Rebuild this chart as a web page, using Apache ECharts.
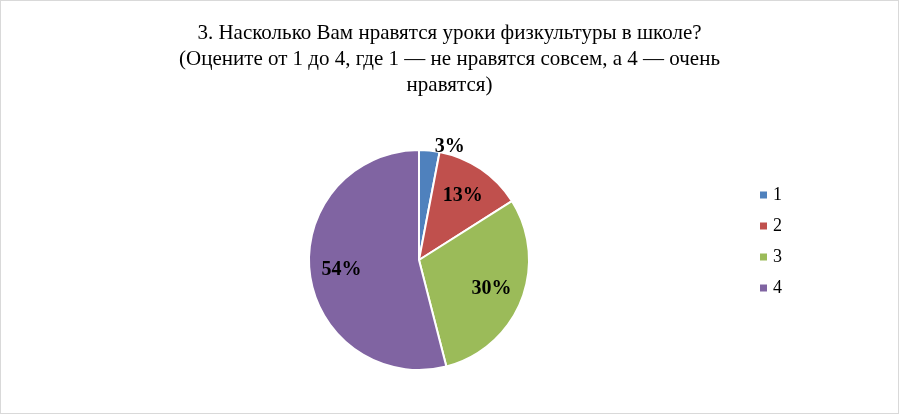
<!DOCTYPE html>
<html><head><meta charset="utf-8">
<script src="https://cdn.jsdelivr.net/npm/echarts@6/dist/echarts.min.js"></script>
<style>html,body{margin:0;padding:0;background:#fff}#c{width:899px;height:414px;box-sizing:border-box;border:1px solid #d9d9d9}</style>
</head><body><div id="c"></div>
<script>
const categories = ['1','2','3','4'];
const values = [3,13,30,54];
const labels = ['3%','13%','30%','54%'];
const colors = ['#4F81BD','#C0504D','#9BBB59','#8064A2'];
const titleText = '3. Насколько Вам нравятся уроки физкультуры в школе?\n(Оцените от 1 до 4, где 1 — не нравятся совсем, а 4 — очень\nнравятся)';
const font = 'Liberation Serif, Times New Roman, serif';
const chart = echarts.init(document.getElementById('c'));
const data = categories.map((c,i)=>({name:c,value:values[i],itemStyle:{color:colors[i]}}));
const labelData = categories.map((c,i)=>({name:c,value:values[i],
  label:{show:i>0,formatter:labels[i]}}));
chart.setOption({
  title:{text:titleText,left:'center',top:14,textStyle:{fontFamily:font,fontSize:21,fontWeight:'normal',color:'#000',lineHeight:26}},
  legend:{orient:'vertical',left:752,top:180,itemGap:13,itemWidth:9,itemHeight:9,icon:'rect',
    textStyle:{fontFamily:font,fontSize:18,color:'#000'},data:categories},
  series:[
   {type:'pie',center:[418,259],radius:[0,110],startAngle:90,clockwise:true,
    itemStyle:{borderColor:'#fff',borderWidth:2},
    data:data.map((d,i)=>Object.assign({},d,{label:{show:i===0,position:'outside',formatter:labels[i],
      fontFamily:font,fontSize:20,fontWeight:'bold',color:'#000'}})),
    labelLine:{show:false,length:4,length2:0},emphasis:{disabled:true},animation:false},
   {type:'pie',center:[418,259],radius:[0,150],startAngle:90,clockwise:true,silent:true,
    itemStyle:{color:'transparent'},legendHoverLink:false,
    label:{position:'inside',fontFamily:font,fontSize:20,fontWeight:'bold',color:'#000'},
    data:labelData,animation:false}
  ]
});
</script></body></html>
